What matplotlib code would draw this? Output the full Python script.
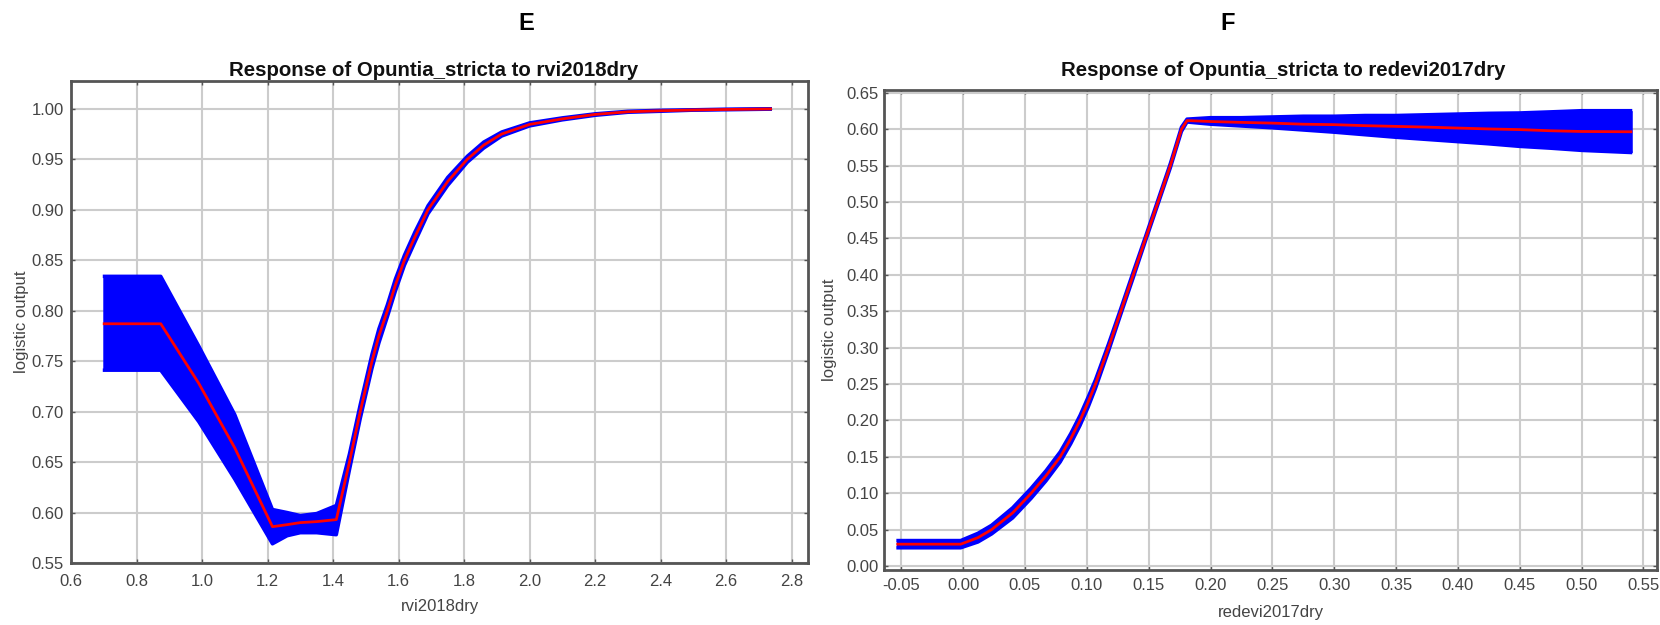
import matplotlib
matplotlib.use("Agg")
import matplotlib.pyplot as plt
import numpy as np

plt.rcParams['font.family'] = ['Liberation Sans', 'DejaVu Sans']
plt.rcParams['axes.unicode_minus'] = False

# ---- panel E : response to rvi2018dry ----
rvi_x = [0.697, 0.874, 0.99, 1.10, 1.215, 1.26, 1.30, 1.35, 1.41, 1.45, 1.483, 1.519, 1.54,
         1.566, 1.59, 1.618, 1.65, 1.69, 1.75, 1.81, 1.86, 1.915, 2.0, 2.1, 2.2, 2.3, 2.4,
         2.5, 2.6, 2.74]
rvi_mean = [0.787, 0.787, 0.728, 0.664, 0.586, 0.588, 0.590, 0.591, 0.593, 0.650, 0.700, 0.750, 0.775,
            0.800, 0.825, 0.850, 0.873, 0.900, 0.928, 0.950, 0.964, 0.975, 0.9845, 0.990, 0.9944, 0.997, 0.998,
            0.9988, 0.9993, 0.9998]
rvi_upper = [0.834, 0.834, 0.765, 0.697, 0.603, 0.600, 0.597, 0.599, 0.607, 0.658, 0.707, 0.757, 0.782,
             0.806, 0.831, 0.855, 0.878, 0.904, 0.932, 0.953, 0.967, 0.977, 0.986, 0.991, 0.995, 0.9975, 0.9985,
             0.999, 0.9996, 1.0]
rvi_lower = [0.741, 0.741, 0.690, 0.633, 0.569, 0.577, 0.580, 0.580, 0.578, 0.642, 0.693, 0.743, 0.768,
             0.794, 0.819, 0.845, 0.868, 0.896, 0.924, 0.947, 0.961, 0.973, 0.983, 0.989, 0.9935, 0.9965, 0.9975,
             0.9986, 0.999, 0.9996]

# ---- panel F : response to redevi2017dry ----
redevi_x = [-0.054, -0.002, 0.012, 0.023, 0.04, 0.055, 0.067, 0.0785, 0.0870, 0.0945, 0.101, 0.107,
            0.1175, 0.1275, 0.1375, 0.1475, 0.1575, 0.1675, 0.1765, 0.181, 0.20, 0.225, 0.25, 0.275,
            0.30, 0.325, 0.35, 0.375, 0.40, 0.425, 0.45, 0.475, 0.50, 0.541]
redevi_mean = [0.030, 0.030, 0.039, 0.050, 0.073, 0.100, 0.124, 0.150, 0.175, 0.200, 0.225, 0.250,
               0.300, 0.350, 0.400, 0.450, 0.500, 0.550, 0.600, 0.612, 0.6107, 0.6095, 0.6085, 0.607,
               0.6064, 0.605, 0.604, 0.603, 0.6017, 0.6005, 0.5996, 0.598, 0.597, 0.5966]
redevi_upper = [0.035, 0.035, 0.045, 0.056, 0.080, 0.107, 0.131, 0.157, 0.182, 0.207, 0.232, 0.256,
                0.305, 0.354, 0.404, 0.453, 0.503, 0.553, 0.603, 0.614, 0.616, 0.616, 0.617, 0.618,
                0.618, 0.619, 0.619, 0.620, 0.621, 0.622, 0.6225, 0.624, 0.6256, 0.6256]
redevi_lower = [0.025, 0.025, 0.033, 0.044, 0.066, 0.093, 0.117, 0.143, 0.168, 0.193, 0.218, 0.244,
                0.295, 0.346, 0.396, 0.447, 0.497, 0.547, 0.597, 0.610, 0.607, 0.6045, 0.602, 0.599,
                0.596, 0.5925, 0.589, 0.586, 0.583, 0.580, 0.5765, 0.574, 0.571, 0.568]

spine_col = '#555555'
text_col = '#444444'
W, H = 1660, 625


def draw_panel(ax, x, mean, upper, lower, xlabel, xticks, yticks, xlim, ylim, xfmt, xpad, ypad):
    ax.fill_between(x, lower, upper, color='#0000ff', lw=0, zorder=2)
    ax.plot(x, upper, color='#0000ff', lw=2.5, solid_capstyle='butt', zorder=2)
    ax.plot(x, lower, color='#0000ff', lw=2.5, solid_capstyle='butt', zorder=2)
    ax.plot(x, mean, color='#ff0000', lw=2, solid_capstyle='butt', zorder=3)

    ax.set_xlim(xlim)
    ax.set_ylim(ylim)
    ax.set_xticks(xticks)
    ax.set_yticks(yticks)
    ax.set_xticklabels([xfmt % v for v in xticks])
    ax.set_yticklabels(['%.2f' % v for v in yticks])
    ax.grid(True, color='#cccccc', lw=1.5, zorder=0)
    ax.set_axisbelow(True)
    ax.tick_params(direction='in', length=3, width=1, color=spine_col,
                   top=True, right=True, labelsize=12, labelcolor=text_col)
    ax.tick_params(axis='x', pad=xpad)
    ax.tick_params(axis='y', pad=ypad)
    for sp in ax.spines.values():
        sp.set_color(spine_col)
        sp.set_linewidth(2)
    ax.set_xlabel(xlabel, fontsize=12, color=text_col, va='center')
    ax.set_ylabel('logistic output', fontsize=12, color=text_col, va='center')


fig = plt.figure(figsize=(16.6, 6.25), dpi=100)

# left panel: axes box 71..808 x 80..563 px
l1, r1, t1, b1 = 71, 808, 80.5, 563
ax1 = fig.add_axes([l1 / W, 1 - b1 / H, (r1 - l1) / W, (b1 - t1) / H])
draw_panel(ax1, rvi_x, rvi_mean, rvi_upper, rvi_lower, 'rvi2018dry',
           np.arange(0.6, 2.81, 0.2), np.arange(0.55, 1.001, 0.05),
           (0.6, 2.85), (0.55, 1.028), '%.1f', 8, 5)
ax1.xaxis.set_label_coords(0.5, (b1 - 606) / (b1 - t1))
ax1.yaxis.set_label_coords((21 - l1) / (r1 - l1), 0.5)

# right panel: axes box 884..1657 x 90..569 px
l2, r2, t2, b2 = 884, 1657, 90, 569.5
ax2 = fig.add_axes([l2 / W, 1 - b2 / H, (r2 - l2) / W, (b2 - t2) / H])
draw_panel(ax2, redevi_x, redevi_mean, redevi_upper, redevi_lower, 'redevi2017dry',
           np.arange(-0.05, 0.551, 0.05), np.arange(0.0, 0.651, 0.05),
           (-0.064, 0.561), (-0.0048, 0.654), '%.2f', 6, 4)
ax2.xaxis.set_label_coords(0.5, (b2 - 612) / (b2 - t2))
ax2.yaxis.set_label_coords((829 - l2) / (r2 - l2), 0.5)

fig.text(434 / W, 1 - 70 / H, 'Response of Opuntia_stricta to rvi2018dry',
         fontsize=14.7, fontweight='bold', color='#111111', ha='center', va='center')
fig.text(1283 / W, 1 - 71 / H, 'Response of Opuntia_stricta to redevi2017dry',
         fontsize=14.7, fontweight='bold', color='#111111', ha='center', va='center')

fig.text(526 / W, 1 - 23 / H, 'E', fontsize=17, fontweight='bold', ha='center', va='center')
fig.text(1228 / W, 1 - 23 / H, 'F', fontsize=17, fontweight='bold', ha='center', va='center')

plt.savefig('out.png', dpi=100)
